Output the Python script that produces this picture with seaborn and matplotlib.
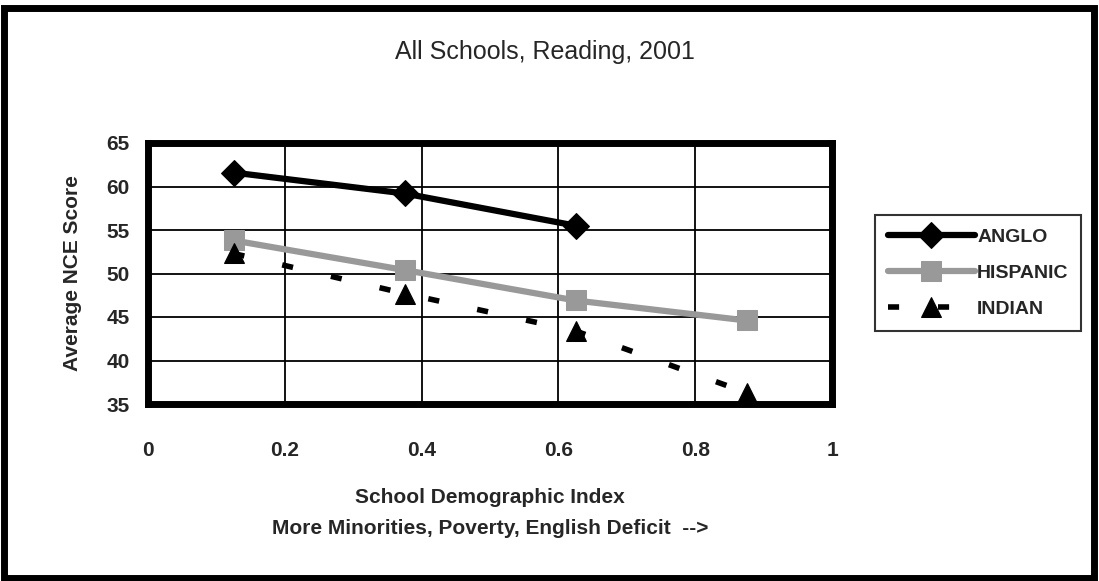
import matplotlib
matplotlib.use('Agg')
import matplotlib.pyplot as plt
from matplotlib.patches import Rectangle
import seaborn as sns
import pandas as pd

demo_index = [0.125, 0.375, 0.625, 0.875]
anglo = [61.6, 59.2, 55.5]
hispanic = [53.8, 50.4, 46.9, 44.6]
indian = [52.3, 47.7, 43.4, 36.3]

sns.set_style('white')
plt.rcParams['font.family'] = ['Liberation Sans', 'DejaVu Sans']
plt.rcParams['font.weight'] = 'bold'

fig = plt.figure(figsize=(10.99, 5.81), dpi=100)
ax = fig.add_axes([148 / 1099, 1 - 404 / 581, 684 / 1099, 261 / 581])

df_a = pd.DataFrame({'x': demo_index[:3], 'y': anglo})
df_h = pd.DataFrame({'x': demo_index, 'y': hispanic})
df_i = pd.DataFrame({'x': demo_index, 'y': indian})

sns.lineplot(data=df_a, x='x', y='y', ax=ax, color='black', lw=4.5,
             marker='D', markersize=13, markeredgecolor='black', label='ANGLO')
sns.lineplot(data=df_h, x='x', y='y', ax=ax, color='#999999', lw=4.5,
             marker='s', markersize=15, markeredgecolor='#999999', label='HISPANIC')
sns.lineplot(data=df_i, x='x', y='y', ax=ax, color='black', lw=4,
             marker='^', markersize=15, markeredgecolor='black', label='INDIAN',
             dashes=False)
ax.lines[-1].set_dashes([2, 7])

ax.set_xlim(0, 1)
ax.set_ylim(35, 65)
ax.set_xticks([0, 0.2, 0.4, 0.6, 0.8, 1])
ax.set_xticklabels(['0', '0.2', '0.4', '0.6', '0.8', '1'])
ax.set_yticks(range(35, 70, 5))
ax.grid(True, color='black', lw=1.3)
for s in ax.spines.values():
    s.set_linewidth(5)
    s.set_color('black')
ax.tick_params(axis='x', direction='out', length=5, width=1.5, pad=22, labelsize=15)
ax.tick_params(axis='y', direction='out', length=5, width=1.5, pad=8, labelsize=15)
for lbl in ax.get_xticklabels() + ax.get_yticklabels():
    lbl.set_fontweight('bold')

ax.set_xlabel('School Demographic Index\nMore Minorities, Poverty, English Deficit  -->',
              fontsize=15, fontweight='bold', labelpad=20, linespacing=1.75)
ax.set_ylabel('Average NCE Score', fontsize=15, fontweight='bold', labelpad=18)

fig.text(545 / 1099, 1 - 52 / 581, 'All Schools, Reading, 2001', ha='center',
         va='center', fontsize=18, fontweight='normal')

leg = ax.legend(loc='center left', bbox_to_anchor=(875 / 1099, 1 - 273 / 581),
                bbox_transform=fig.transFigure, frameon=True, fancybox=False,
                edgecolor='black', handlelength=4.5, borderaxespad=0,
                handletextpad=0.1, labelspacing=0.95, borderpad=0.65,
                prop={'weight': 'bold', 'size': 14})
leg.get_frame().set_linewidth(1.5)

fig.patches.append(Rectangle((4 / 1099, 3 / 581), 1090 / 1099, 570 / 581,
                             transform=fig.transFigure, fill=False,
                             edgecolor='black', lw=5))

fig.savefig('out.png', dpi=100)
